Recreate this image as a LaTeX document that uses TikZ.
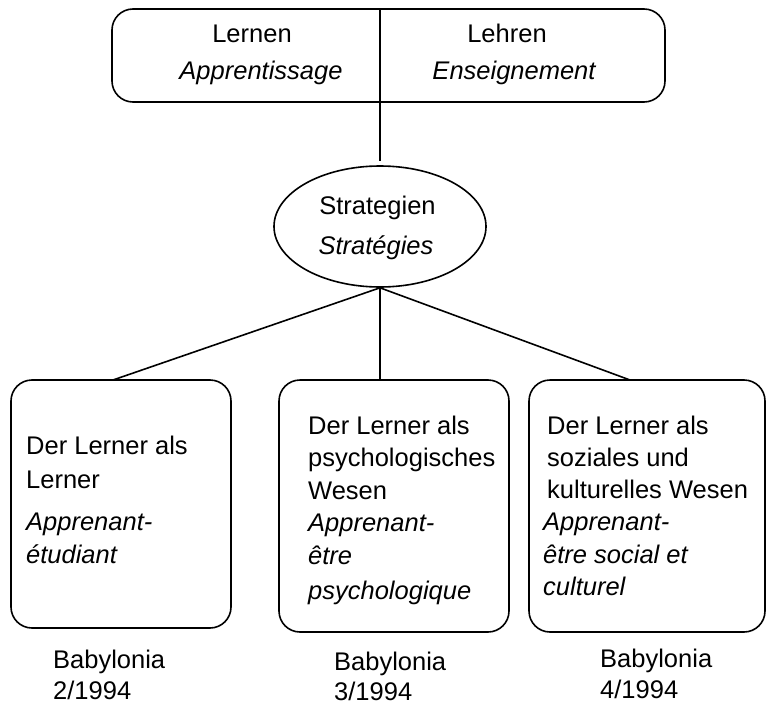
\documentclass[tikz,border=0pt]{standalone}
\usepackage{fontspec}
\setmainfont{Liberation Sans}
\usetikzlibrary{shapes.geometric}
\tikzset{
  frame/.style={draw, line width=1.6pt, rounded corners=21pt, inner sep=0pt},
  conn/.style={line width=1.6pt},
  txt/.style={anchor=base west, inner sep=0pt, font=\fontsize{25.5}{30}\selectfont},
  ctxt/.style={anchor=base, inner sep=0pt, font=\fontsize{25.5}{30}\selectfont},
  itxt/.style={txt, font=\fontsize{25.5}{30}\selectfont\itshape},
  ictxt/.style={ctxt, font=\fontsize{25.5}{30}\selectfont\itshape},
}
\begin{document}
\begin{tikzpicture}[x=1pt,y=-1pt]
\useasboundingbox (0,0) rectangle (768,706);
% top box
\node[frame, minimum width=553pt, minimum height=93pt] (top) at (388.5,55.5) {};
% ellipse
\node[draw, line width=1.6pt, ellipse, inner sep=0pt, minimum width=212pt, minimum height=121pt] (ell) at (380,226.5) {};
\draw[conn, shorten >=4pt] (top.north -| ell.north) -- (ell.north);
% lower boxes
\node[frame, minimum width=220pt, minimum height=248pt] (b1) at (121,504) {};
\node[frame, minimum width=230pt, minimum height=252pt] (b2) at (394,506) {};
\node[frame, minimum width=236pt, minimum height=252pt] (b3) at (647,506) {};
\coordinate (c1) at (113,380);
\coordinate (c3) at (630,380);
\draw[conn] (ell.south) -- (c1);
\draw[conn] (ell.south) -- (ell.south |- b2.north);
\draw[conn] (ell.south) -- (c3);
% top texts
\node[ctxt] (t1) at (252,43) {Lernen};
\node[ictxt] (t2) at (261,80) {Apprentissage};
\node[ctxt] (t3) at (507,43) {Lehren};
\node[ictxt] (t4) at (514,80) {Enseignement};
% ellipse texts
\node[ctxt] (e1) at (377.5,214) {Strategien};
\node[ictxt] (e2) at (376,254) {Stratégies};
% box 1
\node[txt] (a1) at (26,454) {Der Lerner als};
\node[txt] (a2) at (26,488) {Lerner};
\node[itxt] (a3) at (26,530) {Apprenant-};
\node[itxt] (a4) at (26,563) {étudiant};
% box 2
\node[txt] (p1) at (308,434) {Der Lerner als};
\node[txt] (p2) at (308,466) {psychologisches};
\node[txt] (p3) at (308,499) {Wesen};
\node[itxt] (p4) at (308,531) {Apprenant-};
\node[itxt] (p5) at (308,564) {être};
\node[itxt] (p6) at (308,599) {psychologique};
% box 3
\node[txt] (s1) at (547,434) {Der Lerner als};
\node[txt] (s2) at (547,466) {soziales und};
\node[txt] (s3) at (547,498) {kulturelles Wesen};
\node[itxt] (s4) at (543,530) {Apprenant-};
\node[itxt] (s5) at (543,563) {être social et};
\node[itxt] (s6) at (543,595) {culturel};
% sources
\node[txt] (y1) at (53,668) {Babylonia};
\node[txt] (y2) at (53,699) {2/1994};
\node[txt] (y3) at (334,670) {Babylonia};
\node[txt] (y4) at (334,700) {3/1994};
\node[txt] (y5) at (600,667) {Babylonia};
\node[txt] (y6) at (600,698) {4/1994};
\end{tikzpicture}
\end{document}
